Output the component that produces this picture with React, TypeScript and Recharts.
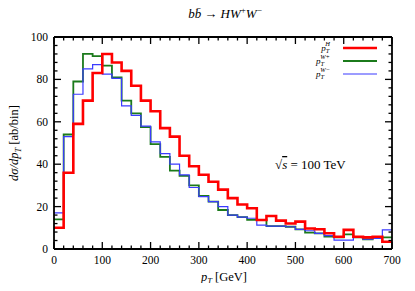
import { LineChart, Line, XAxis, YAxis } from 'recharts';

// bin lower edges (20 GeV bins)
const binStarts = [0, 20, 40, 60, 80, 100, 120, 140, 160, 180, 200, 220, 240, 260, 280, 300, 320, 340, 360, 380, 400, 420, 440, 460, 480, 500, 520, 540, 560, 580, 600, 620, 640, 660, 680];
const binEnd = 700;

const ptH = [10, 36, 59, 70, 83, 92, 88, 84, 77, 70, 65, 57, 53, 44, 39, 35, 31.7, 28, 24, 21, 19.2, 13.7, 15.6, 13.4, 12, 12.9, 9.7, 9.3, 7.4, 5.8, 9, 5.8, 5.5, 5.8, 3.4];
const ptWplus = [14, 54, 79, 92, 91, 86.5, 81, 70, 64, 57.5, 49.5, 43.5, 37, 34.5, 30, 25, 22.3, 18.4, 16, 15, 13.7, 13.7, 10.8, 10.8, 10.5, 9.3, 7.7, 7.4, 5.8, 5.5, 6.9, 5.5, 4.6, 5.5, 5.5];
const ptWminus = [17, 53, 73, 85, 87, 82.5, 80.5, 67.5, 63, 58, 50.5, 45, 40, 35, 29, 24.7, 22.3, 20, 16, 15, 14.5, 11.3, 10.8, 10.8, 10.5, 9.3, 8.6, 7.4, 6.3, 4.2, 4.2, 5.5, 4.6, 5, 9];

const xTicks = [0, 20, 40, 60, 80, 100, 120, 140, 160, 180, 200, 220, 240, 260, 280, 300, 320, 340, 360, 380, 400, 420, 440, 460, 480, 500, 520, 540, 560, 580, 600, 620, 640, 660, 680, 700];
const xMajor = [0, 100, 200, 300, 400, 500, 600, 700];
const yTicks = [0, 4, 8, 12, 16, 20, 24, 28, 32, 36, 40, 44, 48, 52, 56, 60, 64, 68, 72, 76, 80, 84, 88, 92, 96, 100];
const yMajor = [0, 20, 40, 60, 80, 100];

const series = [
  { key: 'wp', label: 'W+', color: '#1b7a1b', width: 1.8 },
  { key: 'wm', label: 'W−', color: '#3b3bff', width: 1.2 },
  { key: 'h', label: 'H', color: '#ff0000', width: 2.6 },
];

const data = binStarts.map((x, i) => ({ x, h: ptH[i], wp: ptWplus[i], wm: ptWminus[i] }));
const last = data[data.length - 1];
data.push({ ...last, x: binEnd });

const FONT = '"Liberation Serif", "DejaVu Serif", serif';
const MAJOR = 7;
const MINOR = 3.5;

function BottomTick(props: any) {
  const { x, y, payload } = props;
  const major = xMajor.includes(payload.value);
  return (
    <g>
      <line x1={x} x2={x} y1={y} y2={y - (major ? MAJOR : MINOR)} stroke="#000" strokeWidth={1.3} />
      {major && (
        <text x={x} y={y + 15} textAnchor="middle" fontSize={11.5} fontFamily={FONT} fill="#000">
          {payload.value}
        </text>
      )}
    </g>
  );
}

function TopTick(props: any) {
  const { x, y, payload } = props;
  const major = xMajor.includes(payload.value);
  return <line x1={x} x2={x} y1={y} y2={y + (major ? MAJOR : MINOR)} stroke="#000" strokeWidth={1.3} />;
}

function LeftTick(props: any) {
  const { x, y, payload } = props;
  const major = yMajor.includes(payload.value);
  return (
    <g>
      <line x1={x} x2={x + (major ? MAJOR : MINOR)} y1={y} y2={y} stroke="#000" strokeWidth={1.3} />
      {major && (
        <text x={x - 6} y={y + 4} textAnchor="end" fontSize={11.5} fontFamily={FONT} fill="#000">
          {payload.value}
        </text>
      )}
    </g>
  );
}

function RightTick(props: any) {
  const { x, y, payload } = props;
  const major = yMajor.includes(payload.value);
  return <line x1={x} x2={x - (major ? MAJOR : MINOR)} y1={y} y2={y} stroke="#000" strokeWidth={1.3} />;
}

function Key() {
  const rows = [series[2], series[0], series[1]];
  return (
    <g>
      {rows.map((s, i) => (
        <g key={s.key}>
          <text x={330} y={51 + i * 13} textAnchor="end" fontSize={9} fontFamily={FONT} fontStyle="italic" fill="#000">
            p
            <tspan fontSize={6.5} dy={2}>T</tspan>
            <tspan fontSize={6.5} dx={-4} dy={-7}>{s.label}</tspan>
          </text>
          <line x1={343} x2={377} y1={48 + i * 13} y2={48 + i * 13} stroke={s.color} strokeWidth={s.width} />
        </g>
      ))}
    </g>
  );
}

export default function App() {
  return (
    <div style={{ position: 'relative', width: 415, height: 291, background: '#fff', margin: -8 }}>
      <LineChart width={415} height={291} data={data} margin={{ top: 36, right: 22, bottom: 22, left: 0 }}>
        <XAxis
          xAxisId="b"
          dataKey="x"
          type="number"
          domain={[0, 700]}
          ticks={xTicks}
          interval={0}
          height={20}
          tickSize={0}
          tickMargin={0}
          tickLine={false}
          tick={<BottomTick />}
          axisLine={{ stroke: '#000', strokeWidth: 1.8 }}
        />
        <XAxis
          xAxisId="t"
          orientation="top"
          dataKey="x"
          type="number"
          domain={[0, 700]}
          ticks={xTicks}
          interval={0}
          height={1}
          tickSize={0}
          tickMargin={0}
          tickLine={false}
          tick={<TopTick />}
          axisLine={{ stroke: '#000', strokeWidth: 1.8 }}
        />
        <YAxis
          yAxisId="l"
          type="number"
          domain={[0, 100]}
          ticks={yTicks}
          interval={0}
          width={54}
          tickSize={0}
          tickMargin={0}
          tickLine={false}
          tick={<LeftTick />}
          axisLine={{ stroke: '#000', strokeWidth: 1.8 }}
        />
        <YAxis
          yAxisId="r"
          orientation="right"
          type="number"
          domain={[0, 100]}
          ticks={yTicks}
          interval={0}
          width={1}
          tickSize={0}
          tickMargin={0}
          tickLine={false}
          tick={<RightTick />}
          axisLine={{ stroke: '#000', strokeWidth: 1.8 }}
        />
        {/* transparent series bound to the top/right frame axes */}
        <Line xAxisId="t" yAxisId="r" dataKey="h" stroke="#000" strokeOpacity={0} dot={false} isAnimationActive={false} />
        {series.map(s => (
          <Line
            key={s.key}
            xAxisId="b"
            yAxisId="l"
            type="stepAfter"
            dataKey={s.key}
            stroke={s.color}
            strokeWidth={s.width}
            dot={false}
            isAnimationActive={false}
          />
        ))}
      </LineChart>
      <svg width={415} height={291} style={{ position: 'absolute', left: 0, top: 0, pointerEvents: 'none' }}>
        <Key />
        <text x={225} y={18} textAnchor="middle" fontSize={13} fontFamily={FONT} fill="#000">
          <tspan fontStyle="italic">b</tspan>
          <tspan fontStyle="italic">b̄</tspan>
          <tspan dx={3}>→ </tspan>
          <tspan fontStyle="italic">HW</tspan>
          <tspan fontSize={9} dy={-5}>+</tspan>
          <tspan fontStyle="italic" dy={5}>W</tspan>
          <tspan fontSize={9} dy={-5}>−</tspan>
        </text>
        <text x={224} y={281} textAnchor="middle" fontSize={12.5} fontFamily={FONT} fill="#000">
          <tspan fontStyle="italic">p</tspan>
          <tspan fontStyle="italic" fontSize={8.5} dy={3}>T</tspan>
          <tspan dy={-3}> [GeV]</tspan>
        </text>
        <text
          transform="translate(18,143) rotate(-90)"
          textAnchor="middle"
          fontSize={12.5}
          fontFamily={FONT}
          fill="#000"
        >
          <tspan fontStyle="italic">dσ/dp</tspan>
          <tspan fontStyle="italic" fontSize={8.5} dy={3}>T</tspan>
          <tspan dy={-3}> [ab/bin]</tspan>
        </text>
        <text x={275} y={169} fontSize={13} fontFamily={FONT} fill="#000">
          √<tspan fontStyle="italic" textDecoration="overline">s</tspan> = 100 TeV
        </text>
      </svg>
    </div>
  );
}
